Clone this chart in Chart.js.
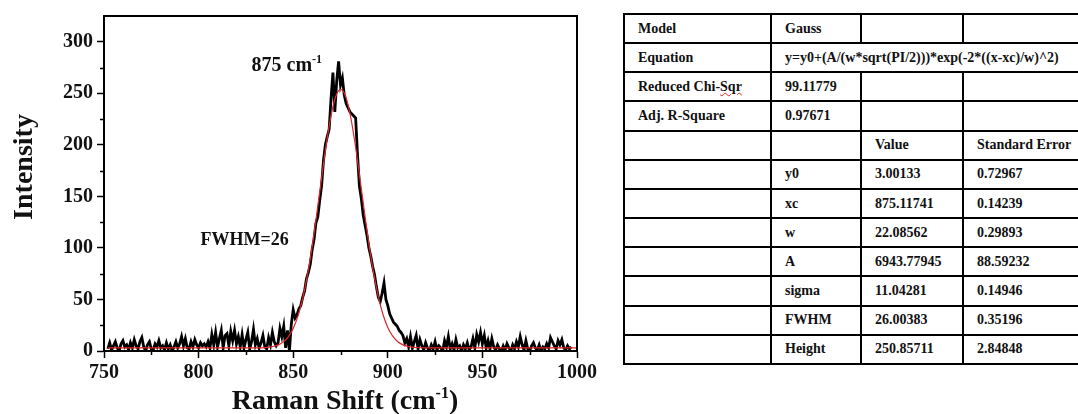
<!DOCTYPE html>
<html>
<head>
<meta charset="utf-8">
<script src="https://cdn.jsdelivr.net/npm/chart.js@4.4.1/dist/chart.umd.min.js"></script>
<style>
  body { margin: 0; background: #fff; width: 1078px; height: 414px; overflow: hidden; position: relative; }
  #chart { position: absolute; left: 0; top: 0; }
  table {
    position: absolute; left: 623px; top: 13px; width: 455px; height: 352px;
    border-collapse: collapse; table-layout: fixed;
    font-family: "Liberation Serif", "Times New Roman", serif; font-weight: bold; font-size: 14px; color: #111;
  }
  td { border: 2px solid #000; padding: 0 0 0 13px; white-space: nowrap; }
  .squiggle { text-decoration: underline wavy #d22; text-decoration-thickness: 1px; }
</style>
</head>
<body>
<canvas id="chart" width="600" height="414"></canvas>

<table>
  <colgroup><col style="width:147px"><col style="width:90px"><col style="width:102px"><col style="width:116px"></colgroup>
  <tr><td>Model</td><td>Gauss</td><td></td><td></td></tr>
  <tr><td>Equation</td><td colspan="3">y=y0+(A/(w*sqrt(PI/2)))*exp(-2*((x-xc)/w)^2)</td></tr>
  <tr><td>Reduced Chi-<span class="squiggle">Sqr</span></td><td>99.11779</td><td></td><td></td></tr>
  <tr><td>Adj. R-Square</td><td>0.97671</td><td></td><td></td></tr>
  <tr><td></td><td></td><td>Value</td><td>Standard Error</td></tr>
  <tr><td></td><td>y0</td><td>3.00133</td><td>0.72967</td></tr>
  <tr><td></td><td>xc</td><td>875.11741</td><td>0.14239</td></tr>
  <tr><td></td><td>w</td><td>22.08562</td><td>0.29893</td></tr>
  <tr><td></td><td>A</td><td>6943.77945</td><td>88.59232</td></tr>
  <tr><td></td><td>sigma</td><td>11.04281</td><td>0.14946</td></tr>
  <tr><td></td><td>FWHM</td><td>26.00383</td><td>0.35196</td></tr>
  <tr><td></td><td>Height</td><td>250.85711</td><td>2.84848</td></tr>
</table>

<script>
// measured spectrum, one point per cm-1 starting at 752 cm-1
const ramanStart = 752;
const intensity = [
  2, 8, 1, 5, 9, 3, 0, 7, 10, 4,          // 752
  6, 1, 8, 3, 11, 5, 2, 9, 13, 4,         // 762
  0, 6, 9, 2, 1, 7, 4, 10, 3, 5,          // 772
  1, 8, 2, 6, 0, 4, 9, 3, 7, 14,          // 782
  5, 12, 3, 2, 9, 4, 11, 6, 3, 8,         // 792
  5, 7, 4, 9, 3, 16, 6, 18, 4, 12,        // 802
  20, 3, 15, 17, 5, 19, 10, 20, 7, 14,    // 812
  4, 16, 3, 11, 18, 2, 9, 21, 6, 12,      // 822
  3, 8, 15, 4, 2, 13, 6, 18, 9, 5,        // 832
  8, 22, 14, 24, 3, 20, 0, 26, 40, 32,    // 842
  35, 41, 44, 52, 58, 70, 76, 84, 98, 108,        // 852
  124, 130, 146, 160, 185, 200, 208, 215, 245, 270, // 862
  232, 262, 281, 258, 265, 248, 240, 236, 232, 230, // 872
  228, 226, 190, 160, 148, 132, 122, 112, 100, 92,  // 882
  82, 74, 62, 52, 48, 56, 66, 50, 44, 36, // 892
  32, 28, 26, 24, 20, 18, 15, 8, 12, 4,   // 902
  14, 3, 9, 15, 2, 11, 5, 1, 8, 3,        // 912
  0, 6, 2, 9, 1, 5, 3, 0, 10, 4,          // 922
  14, 2, 7, 1, 11, 3, 5, 0, 6, 2,         // 932
  8, 1, 4, 12, 3, 16, 9, 18, 7, 15,       // 942
  3, 10, 2, 12, 4, 1, 6, 2, 0, 5,         // 952
  1, 7, 3, 0, 6, 2, 9, 4, 14, 6,          // 962
  1, 10, 2, 0, 5, 8, 3, 1, 6, 0,          // 972
  4, 2, 7, 3, 13, 9, 5, 2, 10, 6,         // 982
  11, 3, 1, 5, 2, 4                       // 992
];

// gauss fit curve (red)
const fitShift = [752, 830, 835, 837.5, 840, 842.5, 845, 847.5, 850, 852.5, 855, 857.5, 860, 862.5, 865,
  867.5, 870, 872.5, 875, 877.5, 880, 882.5, 885, 887.5, 890, 892.5, 895, 897.5, 900, 902.5, 905,
  907.5, 910, 912.5, 915, 920, 1000];
const fitIntensity = [3.0, 3.1, 3.3, 3.8, 4.6, 6.2, 9.1, 14.0, 21.9, 33.8, 50.7, 73.3, 101.3, 133.6, 167.9,
  200.7, 228.3, 246.9, 253.8, 248.1, 230.5, 203.7, 171.2, 136.9, 104.2, 75.7, 52.6, 35.2, 22.8, 14.6, 9.5,
  6.4, 4.7, 3.8, 3.4, 3.1, 3.0];

const xMinorTicks = [775, 825, 875, 925, 975];
const yMinorTicks = [25, 75, 125, 175, 225, 275];

const FONT = '"Liberation Serif", "Times New Roman", serif';

// draw text with an optional superscript part: parts = [[text, size, raise], ...]
function drawRich(ctx, x, y, parts, align) {
  let total = 0;
  const widths = parts.map(p => {
    ctx.font = 'bold ' + p[1] + 'px ' + FONT;
    const w = ctx.measureText(p[0]).width;
    total += w;
    return w;
  });
  let cx = align === 'center' ? x - total / 2 : x;
  ctx.textAlign = 'left';
  ctx.textBaseline = 'alphabetic';
  parts.forEach((p, i) => {
    ctx.font = 'bold ' + p[1] + 'px ' + FONT;
    ctx.fillText(p[0], cx, y - p[2]);
    cx += widths[i];
  });
}

const extras = {
  id: 'extras',
  afterDraw(chart) {
    const ctx = chart.ctx;
    const a = chart.chartArea;
    const xs = chart.scales.x, ys = chart.scales.y;
    ctx.save();
    ctx.strokeStyle = '#000';
    ctx.lineWidth = 2;
    ctx.strokeRect(a.left, a.top, a.right - a.left, a.bottom - a.top);

    ctx.lineWidth = 1.5;
    ctx.beginPath();
    xMinorTicks.forEach(v => {
      const px = Math.round(xs.getPixelForValue(v)) + 0.5;
      ctx.moveTo(px, a.bottom); ctx.lineTo(px, a.bottom + 4);
    });
    yMinorTicks.forEach(v => {
      const py = Math.round(ys.getPixelForValue(v)) + 0.5;
      ctx.moveTo(a.left, py); ctx.lineTo(a.left - 4, py);
    });
    ctx.stroke();

    ctx.fillStyle = '#111';
    // peak label and fwhm note
    drawRich(ctx, xs.getPixelForValue(828), ys.getPixelForValue(272),
      [['875 cm', 20, 0], ['-1', 12, 8]], 'left');
    drawRich(ctx, xs.getPixelForValue(801), ys.getPixelForValue(103),
      [['FWHM=26', 18, 0]], 'left');

    // axis titles
    drawRich(ctx, 345, 409, [['Raman Shift (cm', 28, 0], ['-1', 16, 11], [')', 28, 0]], 'center');
    ctx.translate(32, 167);
    ctx.rotate(-Math.PI / 2);
    drawRich(ctx, 0, 0, [['Intensity', 28, 0]], 'center');
    ctx.restore();
  }
};

const tickFont = { family: FONT, size: 20, weight: 'bold' };

new Chart(document.getElementById('chart'), {
  type: 'line',
  data: {
    datasets: [
      {
        label: 'Gauss fit',
        data: fitShift.map((x, i) => ({ x: x, y: fitIntensity[i] })),
        borderColor: '#e3262a',
        borderWidth: 1.2,
        pointRadius: 0,
        cubicInterpolationMode: 'monotone',
        order: 0
      },
      {
        label: 'Raman',
        data: intensity.map((y, i) => ({ x: ramanStart + i, y: y })),
        borderColor: '#000',
        borderWidth: 2.8,
        pointRadius: 0,
        tension: 0,
        order: 1
      }
    ]
  },
  options: {
    responsive: false,
    animation: false,
    devicePixelRatio: 1,
    layout: { padding: { top: 13, right: 20, left: 0, bottom: 0 } },
    plugins: { legend: { display: false }, tooltip: { enabled: false } },
    scales: {
      x: {
        type: 'linear', min: 750, max: 1000,
        ticks: { stepSize: 50, font: tickFont, color: '#111', padding: 3, maxRotation: 0,
          callback: v => String(v) },
        grid: { drawOnChartArea: false, color: '#000', tickLength: 7, tickWidth: 1.5 },
        border: { color: '#000', width: 2 },
        afterFit(s) { s.height = 63; }
      },
      y: {
        type: 'linear', min: 0, max: 325,
        ticks: { stepSize: 50, font: tickFont, color: '#111', padding: 4, callback: v => String(v) },
        grid: { drawOnChartArea: false, color: '#000', tickLength: 7, tickWidth: 1.5 },
        border: { color: '#000', width: 2 },
        afterBuildTicks(s) { s.ticks = s.ticks.filter(t => t.value % 50 === 0); },
        afterFit(s) { s.width = 104; }
      }
    }
  },
  plugins: [extras]
});
</script>
</body>
</html>
